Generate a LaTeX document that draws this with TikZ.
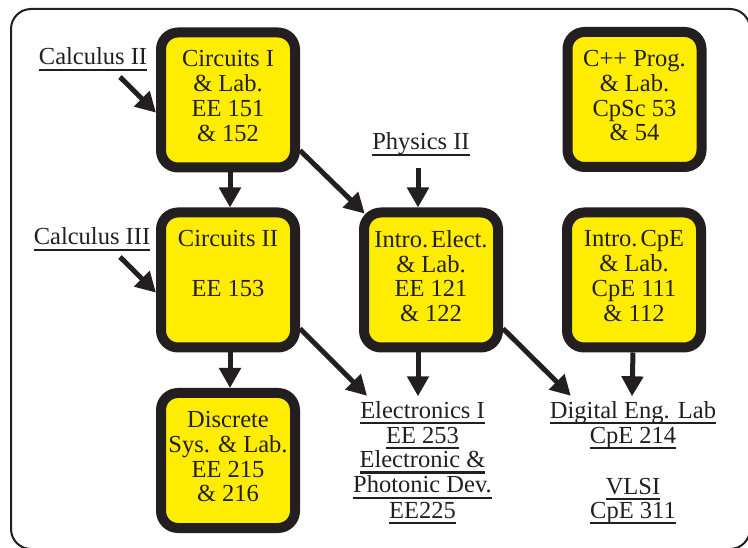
\documentclass[tikz,border=0pt]{standalone}
\usepackage{fontspec}
\setmainfont{Liberation Serif}
\usetikzlibrary{arrows.meta,calc}
\definecolor{ink}{RGB}{35,31,32}
\definecolor{yel}{RGB}{255,237,0}
\newcommand{\ulin}[1]{\setbox0\hbox{#1}\leavevmode\rlap{\rule[-6.3pt]{\wd0}{2.6pt}}\box0}
\newcommand{\dd}{\rule[-8pt]{0pt}{8pt}}
\newcommand{\cfont}{\fontsize{24.5}{24.8}\selectfont}
\begin{document}
\begin{tikzpicture}[x=1pt,y=-1pt,
  course/.style={draw=ink, fill=yel, line width=10pt, rounded corners=17pt,
    minimum width=134pt, minimum height=135pt, inner sep=0pt, outer sep=5pt,
    align=center, font=\cfont, text=ink},
  lab/.style={inner sep=0pt, font=\cfont, text=ink, anchor=base},
  arr/.style={draw=ink, line width=5pt, -{Triangle[length=20pt,width=21pt]}}]
\useasboundingbox (0,0) rectangle (748,548);
\draw[ink, line width=2pt, rounded corners=20pt] (11,9) rectangle (750,549);

\node[course] (c1) at (228,100) {Circuits I\\\& Lab.\\EE 151\\\& 152\dd};
\node[course] (c2) at (228,280) {Circuits II\\\mbox{}\\EE 153\\\dd};
\node[course] (ds) at (228,460.5) {Discrete\\Sys. \& Lab.\\EE 215\\\& 216\dd};
\node[course] (ie) at (431,280) {Intro.\hspace{3pt}Elect.\\\& Lab.\\EE 121\\\& 122\dd};
\node[course] (ce) at (634,280) {Intro.\hspace{3pt}CpE\\\& Lab.\\CpE 111\\\& 112\dd};
\node[course] (cp) at (634.5,99.5) {C++ Prog.\\\& Lab.\\CpSc 53\\\& 54\dd};

\node[lab] (ca2) at (93,65) {\ulin{Calculus II}};
\node[lab] (ca3) at (92,245) {\ulin{Calculus III}};
\node[lab] (ph) at (421,150) {\ulin{Physics II}};
\node[lab] (e1) at (422.5,418) {\ulin{Electronics I}};
\node[lab] (e2) at (422.5,443) {\ulin{EE 253}};
\node[lab] (e3) at (422.5,467.5) {\ulin{Electronic \&}};
\node[lab] (e4) at (422.5,493) {\ulin{Photonic Dev.}};
\node[lab] (e5) at (422.5,518) {\ulin{EE225}};
\node[lab] (d1) at (633,418) {\ulin{Digital Eng. Lab}};
\node[lab] (d2) at (633,443) {\ulin{CpE 214}};
\node[lab] (d3) at (633,494) {\ulin{VLSI}};
\node[lab] (d4) at (633,518) {\ulin{CpE 311}};

\coordinate (s2) at ($(ca2.base)+(27,12)$);
\coordinate (s3) at ($(ca3.base)+(28,12)$);
\draw[arr] (s2) -- (c1.-170);
\draw[arr] ([xshift=2pt]c1.south) -- ([xshift=2pt]c2.north);
\draw[arr, shorten >=-8pt] (c1.-35) -- (ie.135);
\draw[arr] (s3) -- (c2.-170);
\draw[arr] ([xshift=2pt]c2.south) -- ([xshift=2pt]ds.north);
\draw[arr] ($(ph.base)+(-3,18)$) -- ([xshift=-13pt]ie.north);
\draw[arr] (c2.-34) -- ($(e1.north west)+(7,-5)$);
\draw[arr] ([xshift=-13pt]ie.south) -- ([xshift=-4.5pt,yshift=4.5pt]e1.north);
\draw[arr] (ie.-34) -- ($(d1.north west)+(21,-5)$);
\draw[arr] ([xshift=-1pt]ce.south) -- ([xshift=-1pt,yshift=4.5pt]d1.north);
\end{tikzpicture}
\end{document}
